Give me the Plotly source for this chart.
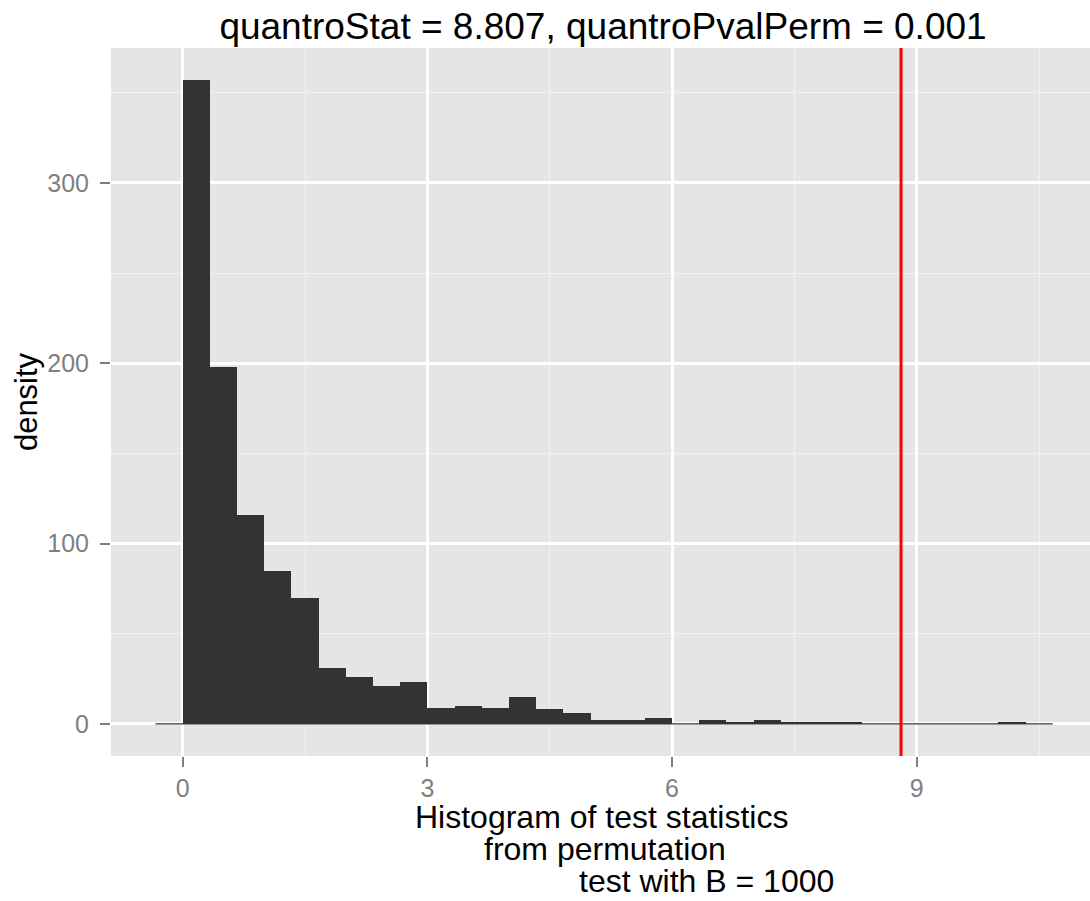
import plotly.graph_objects as go

# ---- data ----
bin_centers = [-0.1667, 0.1667, 0.5, 0.8333, 1.1667, 1.5, 1.8333, 2.1667, 2.5, 2.8333,
               3.1667, 3.5, 3.8333, 4.1667, 4.5, 4.8333, 5.1667, 5.5, 5.8333, 6.1667,
               6.5, 6.8333, 7.1667, 7.5, 7.8333, 8.1667, 8.5, 8.8333, 9.1667, 9.5,
               9.8333, 10.1667, 10.5]
bin_width = 1 / 3
counts = [0, 357, 198, 116, 85, 70, 31, 26, 21, 23,
          9, 10, 9, 15, 8, 6, 2, 2, 3, 0,
          2, 1, 2, 1, 1, 1, 0, 0, 0, 0,
          0, 1, 0]
quantro_stat = 8.807
quantro_pval = 0.001
x_ticks = [0, 3, 6, 9]
y_ticks = [0, 100, 200, 300]
title_text = "quantroStat = 8.807, quantroPvalPerm = 0.001"
xlab_lines = ["Histogram of test statistics", "from permutation", "test with B = 1000"]

FONT = "Liberation Sans, Arial, Helvetica, sans-serif"
L, R, T, B = 111, 0, 48, 145
W, H = 1090, 901
pw, ph = W - L - R, H - T - B

fig = go.Figure()
fig.add_trace(go.Bar(x=bin_centers, y=counts, width=bin_width,
                     marker=dict(color="#333333", line=dict(width=0)),
                     showlegend=False, hoverinfo="x+y"))
# zero-count bins drawn as a hairline along the baseline (as ggplot does)
fig.add_trace(go.Scatter(x=[bin_centers[0] - bin_width / 2, bin_centers[-1] + bin_width / 2],
                         y=[0, 0], mode="lines", line=dict(color="#333333", width=1.2),
                         showlegend=False, hoverinfo="skip"))

fig.add_shape(type="line", x0=quantro_stat, x1=quantro_stat, xref="x",
              y0=0, y1=1, yref="paper", line=dict(color="#FF0000", width=3), layer="above")

def px2paper_x(p):
    return (p - L) / pw

def px2paper_y(p):
    return (H - B - p) / ph

line_cx = [601.5, 605, 706]
line_cy = [817, 849, 881]
for txt, cx, cy in zip(xlab_lines, line_cx, line_cy):
    fig.add_annotation(text=txt, xref="paper", yref="paper",
                       x=px2paper_x(cx), y=px2paper_y(cy),
                       xanchor="center", yanchor="middle", showarrow=False,
                       borderpad=0,
                       font=dict(family=FONT, size=32, color="black"))

fig.update_layout(
    width=W, height=H,
    margin=dict(l=L, r=R, t=T, b=B, pad=0, autoexpand=False),
    paper_bgcolor="white", plot_bgcolor="#E5E5E5",
    bargap=0,
    font=dict(family=FONT),
    title=dict(text=title_text, x=px2paper_x(603), xref="paper", xanchor="center",
               y=1 - 26 / H, yref="container", yanchor="middle",
               font=dict(family=FONT, size=37, color="black"), automargin=False),
)
fig.update_xaxes(range=[-0.879, 11.124], tickmode="array", tickvals=x_ticks,
                 ticktext=[str(v) for v in x_ticks], automargin=False,
                 showgrid=True, gridcolor="white", gridwidth=2.6,
                 minor=dict(tickmode="array", tickvals=[1.5, 4.5, 7.5, 10.5],
                            showgrid=True, gridcolor="#F2F2F2", gridwidth=1.3, ticks=""),
                 zeroline=False, showline=False,
                 ticks="outside", ticklen=10, tickwidth=2, tickcolor="#7F7F7F",
                 tickfont=dict(family=FONT, size=25, color="#7F7F7F"))
fig.update_yaxes(range=[-17.85, 374.85], tickmode="array", tickvals=y_ticks,
                 ticktext=[str(v) for v in y_ticks], automargin=False,
                 showgrid=True, gridcolor="white", gridwidth=2.6,
                 minor=dict(tickmode="array", tickvals=[50, 150, 250, 350],
                            showgrid=True, gridcolor="#F2F2F2", gridwidth=1.3, ticks=""),
                 zeroline=False, showline=False,
                 ticks="outside", ticklen=10, tickwidth=2, tickcolor="#7F7F7F",
                 ticklabelstandoff=6,
                 tickfont=dict(family=FONT, size=25, color="#7F7F7F"),
                 title=dict(text="density", standoff=0,
                            font=dict(family=FONT, size=31, color="black")))

fig.write_html("out.html", config={"displayModeBar": False},
               post_script="document.body.style.margin='0';document.body.style.padding='0';")
